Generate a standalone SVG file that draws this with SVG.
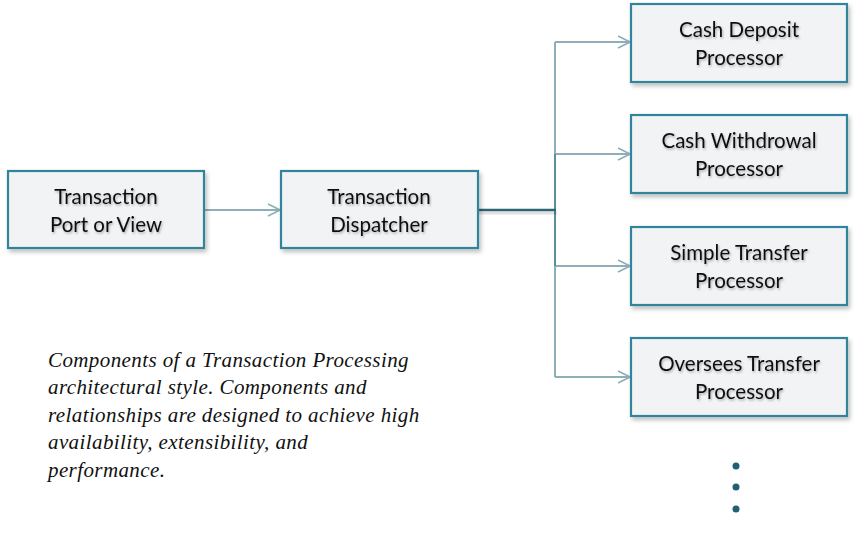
<svg xmlns="http://www.w3.org/2000/svg" width="855" height="547" viewBox="0 0 855 547">
<defs>
<filter id="sh" x="-10%" y="-10%" width="130%" height="140%">
<feDropShadow dx="2" dy="3" stdDeviation="2" flood-color="#000" flood-opacity="0.25"/>
</filter>
<filter id="tsh" x="-10%" y="-20%" width="130%" height="160%">
<feDropShadow dx="1" dy="1.5" stdDeviation="1" flood-color="#000" flood-opacity="0.3"/>
</filter>
<marker id="arr" viewBox="0 0 14 14" refX="13" refY="7" markerWidth="14" markerHeight="14" markerUnits="userSpaceOnUse" orient="auto">
<path d="M1,1 L13,7 L1,13" fill="none" stroke="#8eaeb8" stroke-width="1.6"/>
</marker>
</defs>
<style>
.box{fill:#f2f3f5;stroke:#31849b;stroke-width:2.2;filter:url(#sh)}
.lbl{font-family:Lato,"Open Sans",sans-serif;font-size:20.5px;fill:#111;text-anchor:middle;filter:url(#tsh)}
.lt{fill:none;stroke:#8eaeb8;stroke-width:2}
.dk{fill:none;stroke:#2f6475;stroke-width:2.6}
.cap{font-family:"Liberation Serif",serif;font-style:italic;font-size:21px;letter-spacing:0.4px;fill:#111}
.dot{fill:#215f73}
</style>
<rect width="855" height="547" fill="#fff"/>
<g id="connectors">
<path class="lt" d="M204,210 H280" marker-end="url(#arr)"/>
<path class="lt" d="M555,42 V377"/>
<path class="lt" d="M555,42 H630" marker-end="url(#arr)"/>
<path class="lt" d="M555,154 H630" marker-end="url(#arr)"/>
<path class="lt" d="M555,266 H630" marker-end="url(#arr)"/>
<path class="lt" d="M555,377 H630" marker-end="url(#arr)"/>
<path fill="none" stroke="#5d8c9b" stroke-width="2" d="M555,154 V266"/>
<path fill="none" stroke="#000" stroke-opacity="0.12" stroke-width="3" d="M479,213 H557"/>
<path class="dk" d="M478,210 H556"/>
</g>
<g id="port">
<rect class="box" x="8" y="171" width="196" height="77"/>
<text class="lbl" x="106" y="204">Transaction</text>
<text class="lbl" x="106" y="232">Port or View</text>
</g>
<g id="dispatcher">
<rect class="box" x="281" y="171" width="197" height="77"/>
<text class="lbl" x="379" y="204">Transaction</text>
<text class="lbl" x="379" y="232">Dispatcher</text>
</g>
<g id="deposit">
<rect class="box" x="631" y="4" width="216" height="78"/>
<text class="lbl" x="739" y="37">Cash Deposit</text>
<text class="lbl" x="739" y="65">Processor</text>
</g>
<g id="withdrawal">
<rect class="box" x="631" y="115" width="216" height="78"/>
<text class="lbl" x="739" y="148">Cash Withdrowal</text>
<text class="lbl" x="739" y="176">Processor</text>
</g>
<g id="simple">
<rect class="box" x="631" y="227" width="216" height="78"/>
<text class="lbl" x="739" y="260">Simple Transfer</text>
<text class="lbl" x="739" y="288">Processor</text>
</g>
<g id="oversees">
<rect class="box" x="631" y="338" width="216" height="78"/>
<text class="lbl" x="739" y="371">Oversees Transfer</text>
<text class="lbl" x="739" y="399">Processor</text>
</g>
<g id="more">
<circle class="dot" cx="736" cy="466" r="3.5"/>
<circle class="dot" cx="736" cy="487" r="3.5"/>
<circle class="dot" cx="736" cy="509" r="3.5"/>
</g>
<g id="caption">
<text class="cap" x="48" y="367">Components of a Transaction Processing</text>
<text class="cap" x="48" y="394">architectural style. Components and</text>
<text class="cap" x="48" y="422">relationships are designed to achieve high</text>
<text class="cap" x="48" y="449">availability, extensibility, and</text>
<text class="cap" x="48" y="477">performance.</text>
</g>
</svg>
